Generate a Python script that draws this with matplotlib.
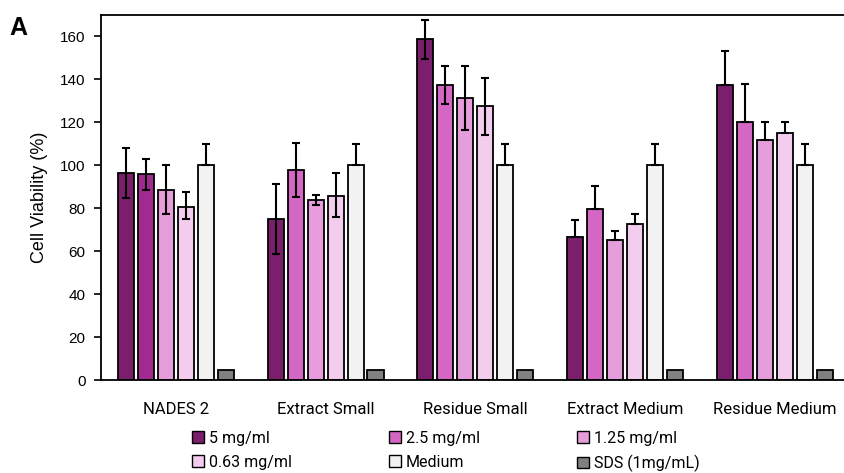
import numpy as np
import matplotlib.pyplot as plt
from matplotlib.patches import Patch

groups = ["NADES 2", "Extract Small", "Residue Small", "Extract Medium", "Residue Medium"]
series = ["5 mg/ml", "2.5 mg/ml", "1.25 mg/ml", "0.63 mg/ml", "Medium", "SDS (1mg/mL)"]
colors = ["#7B1E6B", "#D466C4", "#E59DDB", "#F2CDEE", "#F2F2F2", "#808080"]

# values per series, one entry per group
v5 = [96.4, 74.9, 158.9, 66.8, 137.4]
v25 = [95.9, 97.8, 137.4, 79.8, 120.0]
v125 = [88.6, 83.8, 131.4, 65.1, 111.9]
v063 = [80.8, 85.8, 127.5, 72.8, 114.9]
medium = [100, 100, 100, 100, 100]
sds = [4.7, 4.7, 4.7, 4.7, 4.7]

# error bars (lower, upper)
e5_lo = [11.8, 16.3, 9.2, 0, 0]
e5_hi = [11.6, 16.5, 9.0, 7.7, 15.7]
e25_lo = [7.6, 12.4, 8.7, 0, 0]
e25_hi = [7.2, 12.6, 8.9, 10.7, 17.7]
e125_lo = [11.3, 2.5, 15.1, 0, 0]
e125_hi = [11.4, 2.3, 14.9, 4.1, 8.1]
e063_lo = [6.0, 10.1, 13.6, 0, 0]
e063_hi = [6.6, 10.4, 13.2, 4.5, 5.1]
emed_lo = [0, 0, 0, 0, 0]
emed_hi = [10, 10, 10, 10, 10]

vals = [v5, v25, v125, v063, medium, sds]
errs = [(e5_lo, e5_hi), (e25_lo, e25_hi), (e125_lo, e125_hi),
        (e063_lo, e063_hi), (emed_lo, emed_hi), None]

fig = plt.figure(figsize=(8.45, 4.73), dpi=100)
ax = fig.add_axes([0.1195, 0.1966, 0.8805, 0.7717])

x = np.arange(len(groups))
step = 0.1335
width = 0.107
for j, (name, col) in enumerate(zip(series, colors)):
    pos = x + (j - 2.5) * step
    bar_cols = [col] * len(groups)
    if j == 1:
        bar_cols[0] = "#A02A90"
    ax.bar(pos, vals[j], width, color=bar_cols, edgecolor="black", linewidth=1.3, zorder=2)
    if errs[j] is not None:
        ax.errorbar(pos, vals[j], yerr=[errs[j][0], errs[j][1]], fmt="none",
                    ecolor="black", elinewidth=1.5, capsize=3.2, capthick=1.5, zorder=3)

ax.set_xlim(-0.5, 4.47)
ax.set_ylim(0, 170)
ax.set_yticks(range(0, 161, 20))
ax.set_xticks(x)
ax.set_xticklabels(groups, fontsize=12, fontfamily="Roboto")
ax.tick_params(axis="x", length=0, pad=16)
ax.tick_params(axis="y", length=5, width=1.2, labelsize=11, pad=6)
for lab in ax.get_yticklabels():
    lab.set_fontfamily("Liberation Sans")
ax.set_ylabel("Cell Viability (%)", fontsize=13, fontfamily="Liberation Sans", labelpad=9)

for s in ["left", "bottom", "top"]:
    ax.spines[s].set_linewidth(1.3)
ax.spines["right"].set_visible(False)

# legend filled row by row
order = [0, 3, 1, 4, 2, 5]
handles = [Patch(facecolor=colors[i], edgecolor="black", linewidth=1.0) for i in order]
labels = [series[i] for i in order]
fig.legend(handles, labels, loc="upper left", bbox_to_anchor=(0.227, 0.089),
           ncol=3, frameon=False, handlelength=0.75, handleheight=0.75,
           handletextpad=0.3, columnspacing=6.1, labelspacing=0.55,
           borderaxespad=0, borderpad=0,
           prop={"family": "Roboto", "size": 11.5})

fig.text(0.011, 0.925, "A", fontsize=18, fontweight="bold", fontfamily="Liberation Sans")

fig.savefig("out.png", dpi=100)
